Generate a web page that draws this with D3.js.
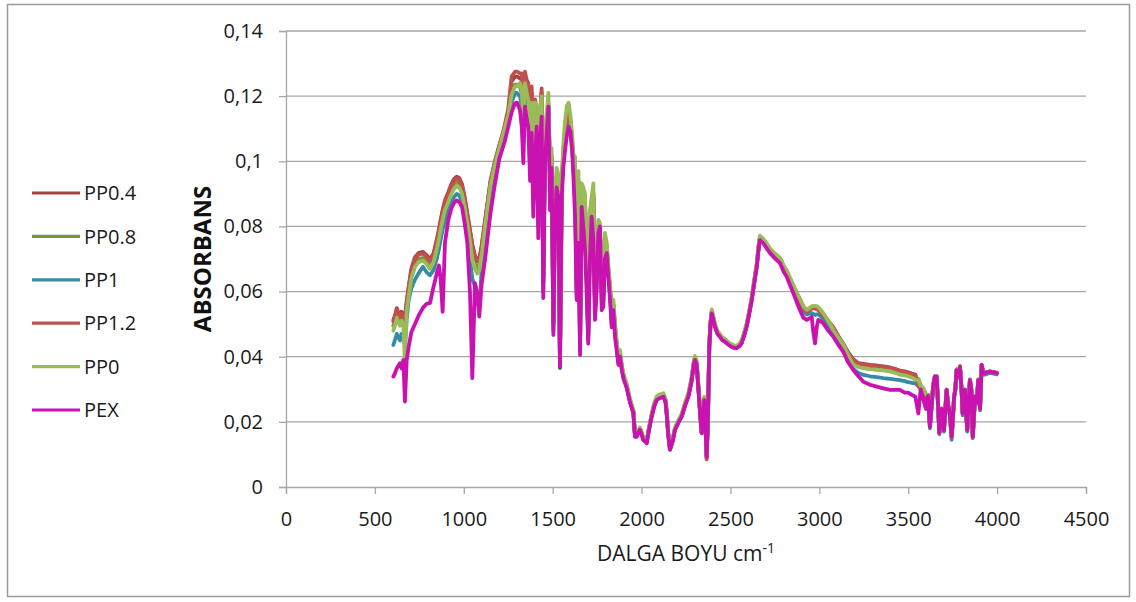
<!DOCTYPE html>
<html>
<head>
<meta charset="utf-8">
<script src="https://cdn.jsdelivr.net/npm/d3@7"></script>
<style>
  body { margin: 0; background: #fff; }
  svg { display: block; }
</style>
</head>
<body>
<div id="chart"></div>
<script>
// wave numbers (cm-1), shared by every series
const waves = [
  604,615,623,632,641,650,660,669,679,690,705,725,745,770,790,810,830,850,860,870,
  881,894,913,930,945,960,975,990,1005,1020,1035,1048,1063,1076,1087,1100,1120,1150,1175,1200,
  1230,1250,1269,1288,1300,1316,1326,1335,1344,1354,1363,1373,1382,1391,1401,1410,1419,1428,1438,1447,
  1457,1466,1476,1485,1494,1504,1513,1522,1532,1541,1551,1560,1569,1580,1590,1600,1610,1617,1626,1635,
  1645,1654,1663,1672,1682,1691,1700,1710,1719,1729,1738,1748,1757,1766,1776,1785,1794,1804,1813,1823,
  1832,1841,1851,1860,1870,1879,1890,1900,
  1916,1935,1954,1963,1973,1982,1991,2001,2010,2020,2029,2040,2057,2070,2085,2100,2123,2135,2141,2150,
  2160,2175,2188,2210,2226,2245,2263,2280,2295,2301,2310,2320,2330,2338,2346,2353,2360,2366,2373,2381,
  2388,2395,2405,2413,2427,2441,2455,2469,2490,2507,2520,2535,2550,2563,2580,2591,2605,2620,2635,2648,2660,
  2666,2685,2705,2723,2750,2779,2800,2816,2835,2854,2875,2891,2910,2929,2945,2957,2965,2976,2985,2994,
  3010,3022,3050,3079,3105,3135,3160,3191,3220,3248,3285,3323,3360,3398,3430,3454,3480,3500,3520,3540,
  3557,3570,3585,3600,3611,3622,3641,3650,3660,3668,3675,3688,3701,3716,3725,3735,3744,3750,3758,3765,
  3772,3782,3791,3800,3806,3812,3819,3832,3840,3847,3855,3863,3876,3885,3894,3904,3913,3922,3932,3945,
  3960,3980,3998
];

const pp04 = [
  .0513,.053,.0549,.0535,.0523,.0538,.053,.0523,.057,.0615,.067,.0705,.0718,.0722,.0712,.070,.0717,.0765,.079,.082,
  .085,.088,.0905,.093,.0945,.0953,.0948,.093,.089,.084,.079,.0745,.071,.0697,.070,.074,.082,.094,.100,.105,
  .110,.115,.1245,.126,.126,.1255,.125,.113,.126,.123,.122,.106,.121,.096,.118,.115,.085,.113,.121,.063,
  .107,.111,.116,.096,.101,.050,.085,.095,.093,.0385,.092,.102,.108,.113,.114,.111,.105,.099,.097,.061,
  .093,.0435,.090,.088,.086,.067,.0465,.081,.086,.089,.0555,.072,.079,.078,.0595,.0585,.075,.073,.066,.0605,
  .0515,.056,.0485,.0435,.0385,.0405,.036,.0335,
  .0309,.0263,.023,.0157,.0157,.0169,.0178,.0163,.0147,.0143,.0137,.0173,.0219,.0248,.027,.0275,.028,.0263,.0229,.0163,
  .0116,.0143,.0178,.0203,.0219,.0253,.028,.0323,.0383,.0393,.0378,.0303,.0223,.0167,.0223,.027,.0181,.0088,.0203,.0433,
  .0503,.0536,.0513,.0495,.0473,.0464,.0453,.0449,.0439,.0433,.043,.0429,.0435,.0444,.0473,.0495,.0533,.0577,.0633,.0679,.0743,
  .0765,.0757,.0742,.0728,.0713,.0700,.0675,.0662,.0638,.0615,.0590,.0575,.0552,.0540,.0545,.0550,.0551,.0550,.0548,.0545,
  .0537,.0530,.0510,.0490,.0465,.0440,.0415,.0392,.0380,.0378,.0375,.0373,.0370,.0367,.0362,.0357,.0355,.0352,.0348,.0345,
  .0312,.0306,.0286,.0262,.0283,.0189,.0315,.034,.034,.0251,.0168,.0241,.0177,.0299,.0251,.0221,.0156,.0201,.0278,.0301,
  .0361,.0341,.0371,.0301,.0228,.0281,.0299,.0177,.0261,.033,.0301,.0156,.0279,.0261,.033,.0241,.0376,.0351,.0351,.0353,
  .0355,.0353,.0351
];

const pp08 = [
  .0495,.051,.053,.0515,.0505,.052,.051,.045,.055,.0595,.065,.0685,.070,.0703,.0693,.068,.070,.0745,.077,.080,
  .083,.086,.0885,.091,.0925,.0935,.093,.091,.087,.082,.077,.072,.0685,.0672,.068,.072,.0805,.093,.0995,.1045,
  .109,.114,.1215,.1235,.1235,.123,.121,.111,.1225,.120,.118,.104,.117,.094,.116,.115,.084,.112,.118,.063,
  .107,.112,.118,.097,.101,.050,.085,.095,.093,.0385,.092,.102,.108,.113,.114,.111,.105,.099,.098,.062,
  .094,.044,.090,.089,.087,.068,.047,.082,.086,.090,.056,.073,.080,.079,.060,.059,.076,.073,.066,.0605,
  .0515,.056,.0485,.0435,.0385,.0405,.036,.0335,
  .0313,.0267,.0234,.016,.016,.0172,.0181,.0166,.015,.0146,.014,.0176,.0222,.0252,.0274,.028,.0284,.0267,.0232,.0166,
  .012,.0146,.0181,.0206,.0222,.0257,.0284,.0327,.0387,.0397,.0382,.0307,.0227,.017,.0227,.0274,.0186,.0097,.0206,.0438,
  .0507,.054,.0517,.0498,.0477,.0467,.0456,.0452,.0442,.0436,.0433,.0432,.0438,.0447,.0477,.0498,.0536,.0581,.0637,.0683,.0747,
  .0768,.0760,.0745,.0730,.0715,.0702,.0677,.0664,.0640,.0617,.0592,.0576,.0554,.0542,.0548,.0553,.0554,.0554,.0552,.0549,
  .0540,.0532,.0510,.0485,.0462,.0438,.0410,.0380,.0370,.0366,.0363,.0361,.0359,.0356,.0352,.0347,.0344,.0341,.0338,.0333,
  .0332,.0312,.0302,.0283,.0278,.0188,.0314,.034,.034,.025,.0168,.024,.0178,.0299,.025,.022,.0155,.020,.0278,.030,
  .036,.034,.037,.030,.0228,.028,.0299,.0178,.026,.0329,.030,.0155,.0278,.026,.0329,.024,.0375,.035,.035,.0352,
  .0354,.0352,.035
];

const pp1 = [
  .0436,.0455,.047,.046,.045,.047,.046,.044,.0515,.0574,.061,.0636,.0655,.0676,.066,.065,.0666,.0705,.073,.076,
  .079,.082,.085,.0875,.089,.090,.0895,.0875,.083,.078,.070,.064,.0615,.058,.055,.066,.078,.091,.098,.103,
  .107,.112,.118,.121,.121,.120,.117,.106,.119,.117,.114,.100,.113,.090,.110,.113,.080,.109,.116,.060,
  .104,.110,.117,.092,.100,.048,.083,.094,.091,.0365,.091,.100,.106,.110,.112,.110,.104,.097,.092,.059,
  .085,.042,.088,.085,.080,.064,.045,.076,.085,.082,.053,.066,.079,.080,.057,.057,.073,.0725,.065,.059,
  .050,.055,.047,.043,.038,.0405,.036,.0335,
  .0307,.0262,.0229,.0156,.0156,.0168,.0177,.0162,.0146,.0142,.0136,.0172,.0218,.0247,.0269,.0274,.0279,.0262,.0228,.0162,
  .0116,.0142,.0177,.0202,.0218,.0252,.0279,.0322,.0382,.0392,.0377,.0302,.0222,.0167,.0222,.0269,.0182,.0095,.0202,.0432,
  .0502,.0535,.0512,.0494,.0472,.0463,.0452,.0448,.0438,.0432,.0429,.0428,.0434,.0443,.0472,.0494,.0532,.0576,.0632,.0678,.0742,
  .0762,.0752,.0737,.0723,.0708,.0694,.0668,.0655,.0630,.0605,.0578,.0560,.0540,.0530,.0533,.0534,.0532,.0528,.0530,.0530,
  .0523,.0515,.0495,.0475,.0450,.0425,.0395,.0362,.0350,.0344,.0340,.0337,.0334,.0332,.0330,.0328,.0325,.0322,.0320,.0318,
  .031,.030,.027,.024,.028,.018,.031,.0335,.0335,.0245,.0162,.0235,.017,.0295,.0245,.0215,.0145,.0195,.0272,.0295,
  .0355,.0335,.0365,.0295,.022,.0275,.0295,.017,.0255,.0325,.0295,.015,.0272,.0255,.0325,.0235,.037,.0345,.0345,.0348,
  .035,.0348,.0346
];

const pp12 = [
  .0508,.0525,.0545,.053,.0518,.0533,.0525,.0518,.0565,.061,.0665,.070,.0713,.0717,.0707,.0695,.0712,.076,.0785,.0815,
  .0845,.0875,.090,.0925,.094,.0948,.0943,.0925,.0885,.0835,.0785,.074,.0705,.0692,.0695,.0735,.0815,.0935,.0995,.1045,
  .111,.116,.126,.1275,.1275,.127,.127,.115,.1275,.125,.124,.108,.123,.097,.119,.116,.086,.114,.1224,.064,
  .108,.112,.117,.097,.102,.051,.086,.096,.094,.039,.093,.103,.109,.114,.115,.112,.106,.100,.098,.062,
  .094,.044,.091,.089,.087,.068,.047,.082,.087,.090,.056,.073,.080,.079,.060,.059,.076,.074,.067,.061,
  .052,.0565,.049,.044,.039,.041,.0365,.034,
  .031,.0264,.0231,.0158,.0158,.017,.0179,.0164,.0148,.0144,.0138,.0174,.022,.0249,.0271,.0276,.0281,.0264,.023,.0164,
  .0117,.0144,.0179,.0204,.022,.0254,.0281,.0324,.0384,.0394,.0379,.0304,.0224,.0168,.0224,.0271,.0182,.0085,.0204,.0434,
  .0504,.0537,.0514,.0496,.0474,.0465,.0454,.045,.044,.0434,.0431,.043,.0436,.0445,.0474,.0496,.0534,.0578,.0634,.068,.0744,
  .0763,.0755,.0740,.0726,.0711,.0698,.0673,.0660,.0636,.0613,.0588,.0572,.0550,.0538,.0543,.0548,.0549,.0548,.0546,.0543,
  .0535,.0528,.0508,.0488,.0463,.0438,.0413,.0390,.0378,.0376,.0373,.0371,.0368,.0365,.0360,.0355,.0353,.0350,.0346,.0343,
  .031,.0305,.0285,.026,.0282,.0188,.0314,.034,.034,.025,.0167,.024,.0176,.0298,.025,.022,.0155,.020,.0277,.030,
  .036,.034,.037,.030,.0227,.028,.0298,.0176,.026,.0329,.030,.0155,.0278,.026,.0329,.024,.0375,.035,.035,.0352,
  .0354,.0352,.035
];

const pp0 = [
  .048,.050,.052,.0505,.0495,.051,.050,.038,.054,.0585,.064,.0675,.069,.0695,.0685,.067,.069,.0735,.076,.079,
  .082,.085,.0875,.090,.0915,.0925,.092,.090,.086,.081,.0755,.070,.067,.0655,.0665,.071,.080,.0925,.099,.104,
  .110,.114,.1205,.123,.123,.124,.122,.112,.124,.121,.119,.105,.118,.095,.118,.117,.085,.115,.120,.065,
  .110,.115,.121,.100,.104,.052,.087,.098,.096,.040,.095,.105,.112,.117,.118,.114,.108,.102,.1014,.064,
  .097,.045,.0932,.092,.090,.070,.048,.085,.089,.0932,.058,.075,.082,.081,.062,.060,.078,.075,.068,.062,
  .053,.0575,.050,.045,.040,.042,.037,.0345,
  .0318,.027,.0237,.0162,.0162,.0174,.0183,.0168,.0152,.0148,.0142,.0178,.0225,.0255,.0278,.0284,.0288,.027,.0235,.0168,
  .0122,.0148,.0183,.0208,.0225,.026,.0288,.0332,.0392,.0402,.0387,.031,.023,.0172,.023,.0277,.0188,.0098,.0208,.0443,
  .0512,.0545,.0522,.0502,.048,.047,.0459,.0455,.0444,.0438,.0435,.0434,.044,.045,.048,.0502,.054,.0585,.0642,.0688,.0752,
  .0772,.0762,.0747,.0732,.0717,.0703,.0678,.0665,.0642,.0620,.0594,.0578,.0556,.0544,.0550,.0555,.0556,.0556,.0555,.0552,
  .0542,.0534,.0510,.0482,.0460,.0437,.0408,.0376,.0368,.0365,.0362,.0360,.0358,.0355,.0350,.0345,.0343,.0340,.0336,.0330,
  .0328,.031,.0303,.0285,.028,.019,.0315,.034,.034,.025,.017,.024,.018,.030,.025,.022,.0155,.020,.028,.030,
  .036,.034,.037,.030,.023,.028,.030,.018,.026,.033,.030,.0155,.028,.026,.033,.024,.0375,.035,.035,.0352,
  .0354,.0352,.035
];

const pex = [
  .0339,.0352,.0364,.0372,.038,.0364,.039,.0262,.039,.043,.0475,.050,.0525,.055,.0562,.0565,.0615,.066,.068,.064,
  .0538,.0749,.082,.0855,.0872,.088,.0875,.086,.081,.075,.0595,.0334,.0626,.0595,.0523,.062,.070,.084,.093,.1008,
  .106,.1106,.115,.1178,.118,.1157,.1106,.0994,.1168,.113,.1106,.094,.1087,.083,.100,.1106,.0764,.105,.1137,.058,
  .100,.108,.1168,.085,.098,.0467,.080,.092,.089,.0368,.089,.098,.103,.108,.1106,.109,.103,.095,.083,.0574,
  .075,.0405,.086,.080,.0728,.060,.044,.070,.083,.076,.0513,.0605,.078,.080,.0543,.0554,.070,.0718,.0646,.0574,
  .049,.0543,.046,.042,.0375,.040,.0355,.033,
  .0305,.026,.0227,.0154,.0154,.0166,.0175,.016,.0144,.014,.0134,.017,.0216,.0245,.0267,.0272,.0277,.026,.0226,.016,
  .0114,.014,.0175,.020,.0216,.025,.0277,.032,.038,.039,.0375,.030,.022,.0165,.022,.0267,.018,.0093,.020,.043,
  .050,.0533,.051,.0492,.047,.0461,.045,.0446,.0436,.043,.0427,.0426,.0432,.0441,.047,.0492,.053,.0574,.063,.0676,.074,
  .0758,.0748,.0732,.0718,.0702,.0687,.066,.0646,.062,.0595,.0565,.0543,.052,.0513,.0518,.0523,.048,.0441,.049,.0513,
  .0508,.0503,.048,.0461,.0438,.0415,.0385,.0359,.034,.0323,.0314,.0308,.0303,.0298,.0298,.0298,.029,.029,.0283,.0277,
  .0226,.030,.027,.024,.028,.0185,.0313,.0339,.0339,.025,.0166,.024,.0175,.0298,.025,.022,.0154,.020,.0277,.030,
  .0359,.034,.0369,.030,.0226,.028,.0298,.0175,.026,.0328,.030,.0154,.0277,.026,.0328,.024,.0375,.035,.0349,.0352,
  .0354,.0352,.035
];

const seriesNames = ["PP0.4", "PP0.8", "PP1", "PP1.2", "PP0", "PEX"];
const seriesValues = [pp04, pp08, pp1, pp12, pp0, pex];
const seriesColors = ["#A8423F", "#77933C", "#378CA5", "#C0504D", "#9BBB59", "#C912B0"];

const xTicks = [0, 500, 1000, 1500, 2000, 2500, 3000, 3500, 4000, 4500];
const yTicks = [0, 0.02, 0.04, 0.06, 0.08, 0.1, 0.12, 0.14];

const config = {
  width: 1136,
  height: 602,
  margin: { top: 31, left: 286, bottom: 115, right: 50 },
  font: "'Open Sans', 'DejaVu Sans', sans-serif",
  grid: "#a6a6a6"
};

const svg = d3.select("#chart")
  .append("svg")
  .attr("width", config.width)
  .attr("height", config.height);

svg.append("rect")
  .attr("x", 0).attr("y", 0)
  .attr("width", config.width).attr("height", config.height)
  .attr("fill", "#fff");

// outer chart frame
svg.append("rect")
  .attr("x", 7.5).attr("y", 4.5)
  .attr("width", 1122).attr("height", 592)
  .attr("fill", "none")
  .attr("stroke", "#9a9a9a")
  .attr("stroke-width", 1.5);

const scale_x = d3.scaleLinear()
  .domain([0, 4500])
  .range([config.margin.left, config.width - config.margin.right]);

const scale_y = d3.scaleLinear()
  .domain([0, 0.14])
  .range([config.height - config.margin.bottom, config.margin.top]);

// grid lines
svg.append("g")
  .selectAll("line")
  .data(yTicks.filter(d => d > 0))
  .join("line")
  .attr("x1", scale_x(0))
  .attr("x2", scale_x(4500))
  .attr("y1", d => scale_y(d))
  .attr("y2", d => scale_y(d))
  .attr("stroke", config.grid)
  .attr("stroke-width", 1.3);

const axis_y = d3.axisLeft(scale_y)
  .tickValues(yTicks)
  .tickSize(7)
  .tickPadding(16)
  .tickFormat(d => String(d).replace(".", ","));

const g_axisY = svg.append("g")
  .attr("transform", `translate(${scale_x(0)}, 0)`)
  .call(axis_y);

const axis_x = d3.axisBottom(scale_x)
  .tickValues(xTicks)
  .tickSize(7)
  .tickPadding(18)
  .tickFormat(d => String(d));

const g_axisX = svg.append("g")
  .attr("transform", `translate(0, ${scale_y(0)})`)
  .call(axis_x);

[g_axisX, g_axisY].forEach(g => {
  g.select(".domain").attr("stroke", config.grid).attr("stroke-width", 1.3);
  g.selectAll(".tick line").attr("stroke", config.grid).attr("stroke-width", 1.3);
  g.selectAll(".tick text")
    .attr("fill", "#1a1a1a")
    .attr("font-size", "20px")
    .attr("font-family", config.font);
});

// spectra
const line = d3.line()
  .x((d, i) => scale_x(waves[i]))
  .y(d => scale_y(d))
  .curve(d3.curveLinear);

svg.append("g")
  .selectAll("path")
  .data(seriesValues)
  .join("path")
  .attr("d", d => line(d))
  .attr("fill", "none")
  .attr("stroke", (d, i) => seriesColors[i])
  .attr("stroke-width", 3.8)
  .attr("stroke-linejoin", "round")
  .attr("stroke-linecap", "round");

// legend
const legend = svg.append("g");
const legendY = d3.scalePoint().domain(seriesNames).range([193, 410]);
seriesNames.forEach((name, i) => {
  legend.append("line")
    .attr("x1", 32).attr("x2", 80)
    .attr("y1", legendY(name)).attr("y2", legendY(name))
    .attr("stroke", seriesColors[i])
    .attr("stroke-width", 3.2);
  legend.append("text")
    .attr("x", 84)
    .attr("y", legendY(name))
    .attr("dy", "0.36em")
    .attr("font-size", "20px")
    .attr("font-family", config.font)
    .attr("fill", "#1a1a1a")
    .text(name);
});

// axis titles
svg.append("text")
  .attr("transform", "translate(211, 259) rotate(-90)")
  .attr("text-anchor", "middle")
  .attr("font-size", "24px")
  .attr("font-weight", "bold")
  .attr("font-family", config.font)
  .attr("fill", "#111")
  .text("ABSORBANS");

const xTitle = svg.append("text")
  .attr("x", 686)
  .attr("y", 561)
  .attr("text-anchor", "middle")
  .attr("font-size", "21px")
  .attr("font-family", config.font)
  .attr("fill", "#1a1a1a");
xTitle.append("tspan").text("DALGA BOYU cm");
xTitle.append("tspan").attr("dy", "-8").attr("font-size", "14px").text("-1");
</script>
</body>
</html>
